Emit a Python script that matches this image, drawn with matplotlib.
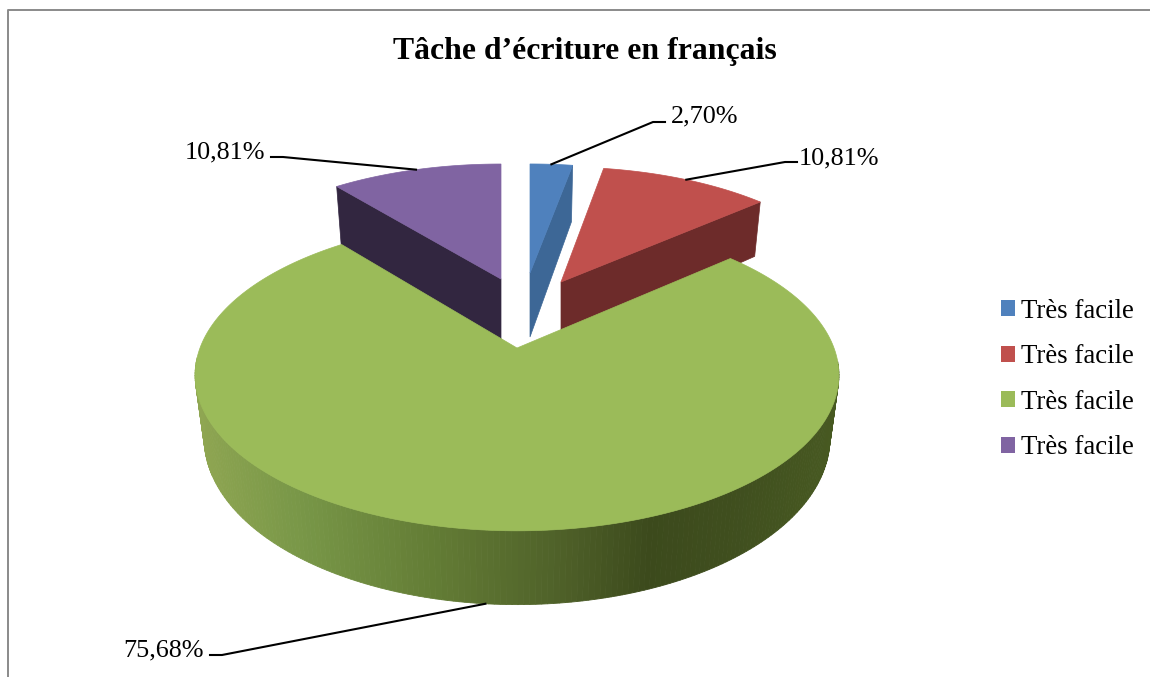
import numpy as np
import matplotlib
matplotlib.use('Agg')
import matplotlib.pyplot as plt
from matplotlib.patches import Patch

plt.rcParams['font.family'] = ['Liberation Serif', 'DejaVu Serif']

# Data
labels = ['Très facile', 'Très facile', 'Très facile', 'Très facile']
values = [2.70, 10.81, 75.68, 10.81]
value_labels = ['2,70%', '10,81%', '75,68%', '10,81%']
title = 'Tâche d’écriture en français'

# Look of the slices
colors = ['#4f81bd', '#c0504d', '#9bbb59', '#8064a2']
wall_colors = ['#3d6796', '#6d2b2a', '#5e7534', '#322640']
apex_x = [530, 561, 517, 501]
apex_y = [273, 282, 348, 279]
radius_x = [296, 296, 317, 297]
radius_y = [128, 135, 151, 135]
depth = [64, 60, 61, 66]
persp = 0.174

# Label position, elbow of the leader line
label_xy = [(671, 116), (799, 158), (123, 650), (185, 152)]
elbow_xy = [[(653, 122), (665, 122)], [(785, 162), (797, 162)],
            [(222, 655), (210, 655)], [(283, 157), (271, 157)]]

# Shades of the round green wall, left to right
wall_x = [195, 300, 430, 560, 650, 740, 838]
wall_r = [0.56, 0.47, 0.39, 0.31, 0.235, 0.25, 0.28]
wall_g = [0.65, 0.59, 0.49, 0.38, 0.29, 0.31, 0.35]
wall_b = [0.32, 0.28, 0.21, 0.16, 0.11, 0.12, 0.13]


def project(i, angle, lower=False):
    # angle in degrees, clockwise from the back of the pie
    x = np.sin(np.radians(angle))
    y = np.cos(np.radians(angle))
    d = 1 + persp * y
    if lower:
        return (apex_x[i] + 0.972 * radius_x[i] * x / d,
                apex_y[i] + depth[i] - 1.07 * radius_y[i] * y / d)
    return apex_x[i] + radius_x[i] * x / d, apex_y[i] - radius_y[i] * y / d


fig = plt.figure(figsize=(11.5, 6.77), dpi=100)
ax = fig.add_axes([0, 0, 1, 1])
ax.set_xlim(0, 1150)
ax.set_ylim(677, 0)
ax.axis('off')

# chart border
ax.plot([8, 8, 1150], [677, 10, 10], color='#8a8a8a', lw=1.4)

total = sum(values)
ends = np.cumsum(values) / total * 360
starts = ends - np.array(values) / total * 360

# back slices first, green one last
for i in [3, 0, 1, 2]:
    ang = np.linspace(starts[i], ends[i], 300)
    if i == 2:
        for a0, a1 in zip(ang[:-1], ang[1:]):
            p = [project(i, a0), project(i, a1), project(i, a1, True), project(i, a0, True)]
            # the back part of the wall is hidden by the top face
            if p[0][1] < 360:
                continue
            xm = (p[0][0] + p[1][0]) / 2
            c = (np.interp(xm, wall_x, wall_r), np.interp(xm, wall_x, wall_g), np.interp(xm, wall_x, wall_b))
            ax.fill([q[0] for q in p], [q[1] for q in p], color=c, lw=0.6)
    else:
        # flat cut wall
        if i == 3:
            cut = starts[i]
        else:
            cut = ends[i]
        r_top = project(i, cut)
        r_low = project(i, cut, True)
        ax.fill([apex_x[i], r_top[0], r_low[0], apex_x[i]],
                [apex_y[i], r_top[1], r_low[1], apex_y[i] + depth[i]],
                color=wall_colors[i], lw=0.5)
    top = [project(i, a) for a in ang]
    ax.fill([apex_x[i]] + [q[0] for q in top], [apex_y[i]] + [q[1] for q in top],
            color=colors[i], lw=0.5)

# leader lines and labels
for i in range(4):
    mid = (starts[i] + ends[i]) / 2
    start = project(i, mid, lower=(i == 2))
    xs = [start[0], elbow_xy[i][0][0], elbow_xy[i][1][0]]
    ys = [start[1], elbow_xy[i][0][1], elbow_xy[i][1][1]]
    ax.plot(xs, ys, color='black', lw=1.5)
    ax.text(label_xy[i][0], label_xy[i][1], value_labels[i], fontsize=18.8,
            color='black', ha='left', va='center')

ax.text(585, 52, title, fontsize=22.9, fontweight='bold', ha='center', va='center')

handles = [Patch(facecolor=colors[i], label=labels[i]) for i in range(4)]
ax.legend(handles=handles, loc='center left', bbox_to_anchor=(1001 / 1150, 1 - 379.5 / 677),
          frameon=False, fontsize=19.4, handlelength=0.52, handleheight=0.52,
          handletextpad=0.22, labelspacing=0.76, borderpad=0, borderaxespad=0)

fig.savefig('out.png', dpi=100)
